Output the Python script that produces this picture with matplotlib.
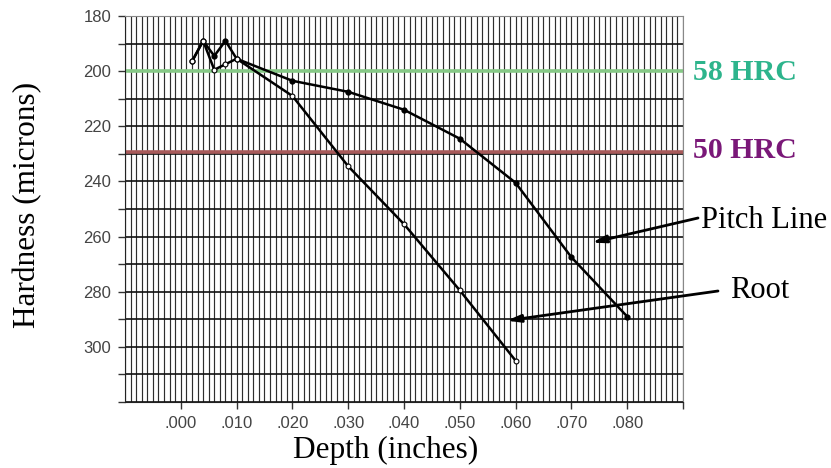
import matplotlib
matplotlib.use('Agg')
import matplotlib.pyplot as plt
import numpy as np

# 数据 (深度 英寸, 硬度 微米)
pitch_depth = [0.002, 0.004, 0.006, 0.008, 0.010, 0.020, 0.030, 0.040, 0.050, 0.060, 0.070, 0.080]
pitch_hard = [196.5, 189.0, 194.5, 189.0, 195.5, 203.5, 207.5, 214.0, 224.5, 240.5, 267.5, 289.0]

root_depth = [0.002, 0.004, 0.006, 0.008, 0.010, 0.020, 0.030, 0.040, 0.050, 0.060]
root_hard = [196.5, 189.0, 199.5, 197.5, 195.5, 209.0, 234.5, 255.5, 279.5, 305.0]

hrc58 = 200
hrc50 = 229.5
xticks = [0.000, 0.010, 0.020, 0.030, 0.040, 0.050, 0.060, 0.070, 0.080]
xtick_labels = ['.000', '.010', '.020', '.030', '.040', '.050', '.060', '.070', '.080']
yticks = [180, 200, 220, 240, 260, 280, 300]

serif = 'Liberation Serif'
sans = 'Liberation Sans'

fig = plt.figure(figsize=(8.31, 4.68), dpi=100)
ax = fig.add_axes([125 / 831, 66 / 468, 558 / 831, 386 / 468])

ax.set_xlim(-0.01, 0.09)
ax.set_ylim(320, 180)

# 网格
for x in np.arange(-0.01, 0.0905, 0.001):
    ax.axvline(x, color='#2e2e2e', lw=0.85, zorder=1)
for y in range(180, 321, 10):
    ax.axhline(y, color='#111111', lw=1.2, zorder=1)

ax.axhline(hrc58, color='#86c886', lw=2.6, zorder=2)
ax.axhline(hrc50, color='#a85a5a', lw=2.6, zorder=2)

ax.plot(pitch_depth, pitch_hard, color='black', lw=1.8, marker='o', ms=3.5,
        mfc='black', mec='black', zorder=4)
ax.plot(root_depth, root_hard, color='black', lw=1.8, marker='o', ms=3.5,
        mfc='white', mec='black', mew=0.8, zorder=4)

ax.set_xticks(xticks + [0.09])
ax.set_xticklabels(xtick_labels + [''], fontsize=12, family=sans, color='#444444')
ax.set_yticks(range(180, 321, 10))
ax.set_yticklabels([str(v) if v in yticks else '' for v in range(180, 321, 10)],
                   fontsize=12, family=sans, color='#444444')
ax.tick_params(axis='both', direction='out', length=5, width=1, color='#333333')
ax.tick_params(axis='x', pad=5)
ax.tick_params(axis='y', pad=5)

for s in ['left', 'bottom']:
    ax.spines[s].set_color('#222222')
for s in ['top', 'right']:
    ax.spines[s].set_color('#888888')

fig.text(386 / 831, 1 - 450 / 468, 'Depth (inches)', fontsize=22.5, family=serif,
         ha='center', va='center')
fig.text(28 / 831, 1 - 205 / 468, 'Hardness (microns)', fontsize=22.5, family=serif,
         ha='center', va='center', rotation=90)

fig.text(693 / 831, 1 - 72 / 468, '58 HRC', fontsize=21.5, family=serif,
         fontweight='bold', color='#2db48c', va='center')
fig.text(693 / 831, 1 - 151 / 468, '50 HRC', fontsize=21.5, family=serif,
         fontweight='bold', color='#7a1878', va='center')
fig.text(701 / 831, 1 - 220 / 468, 'Pitch Line', fontsize=22, family=serif, va='center')
fig.text(730 / 831, 1 - 290 / 468, 'Root', fontsize=22, family=serif, va='center')

# 箭头
arrow = dict(arrowstyle='-|>,head_length=0.8,head_width=0.22', color='black', lw=2,
             shrinkA=0, shrinkB=0)
ax.annotate('', xy=(0.0737, 262.2), xytext=(698, 468 - 218), textcoords='figure pixels',
            arrowprops=arrow, annotation_clip=False, zorder=5)
ax.annotate('', xy=(0.0584, 290.5), xytext=(718, 468 - 291), textcoords='figure pixels',
            arrowprops=arrow, annotation_clip=False, zorder=5)

fig.savefig('out.png', dpi=100)
